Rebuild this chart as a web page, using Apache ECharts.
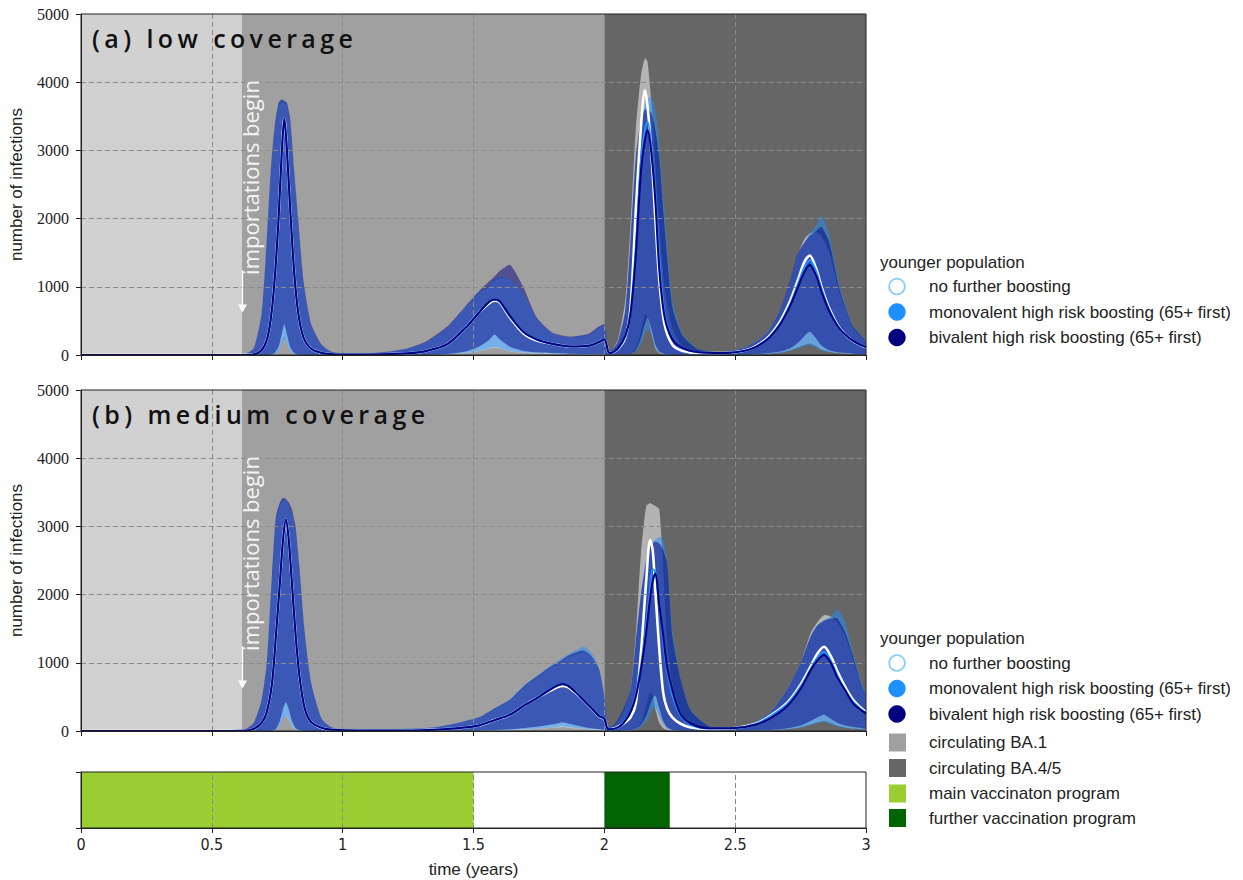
<!DOCTYPE html>
<html><head><meta charset="utf-8">
<script src="https://cdn.jsdelivr.net/npm/echarts@6/dist/echarts.min.js"></script>
<style>
html,body{margin:0;padding:0;background:#fff;}
#wrap{position:relative;width:1243px;height:880px;overflow:hidden;}
#chart{position:absolute;left:0;top:0;width:1243px;height:880px;}
.ptitle{position:absolute;left:92px;font-family:'Open Sans',sans-serif;font-weight:600;font-size:25px;letter-spacing:4.4px;color:#111;line-height:25px;white-space:nowrap;}
</style></head><body>
<div id="wrap"><div id="chart"></div>
<div class="ptitle" id="ta" style="top:26px">(a) low coverage</div>
<div class="ptitle" id="tb" style="top:402px">(b) medium coverage</div>
</div>
<script>
// ---------------- data ----------------
const X_TICKS = [0, 0.5, 1, 1.5, 2, 2.5, 3];
const Y_TICKS = [0, 1000, 2000, 3000, 4000, 5000];
const SCENARIOS = ['no further boosting', 'monovalent high risk boosting (65+ first)', 'bivalent high risk boosting (65+ first)'];
const PERIODS = [
  {name: 'before importations', from: 0, to: 0.615},
  {name: 'circulating BA.1', from: 0.615, to: 2.0},
  {name: 'circulating BA.4/5', from: 2.0, to: 3.0}
];
const VAX = [
  {name: 'main vaccinaton program', from: 0, to: 1.5},
  {name: 'further vaccination program', from: 2.0, to: 2.25}
];
const IMPORT_T = 0.617;        // importations begin (years)
const IMPORT_ARROW = [1240, 680];
const IMPORT_TEXT_POS = [0.6465, 2603];

// panel (a) low coverage
const TA = [0, 0.55, 0.62, 0.66, 0.69, 0.71, 0.725, 0.74, 0.755, 0.767, 0.777, 0.787, 0.80, 0.815, 0.83, 0.85, 0.88, 0.92, 0.96, 1.05, 1.15, 1.25, 1.32, 1.40, 1.47, 1.52, 1.56, 1.58, 1.60, 1.64, 1.69, 1.74, 1.80, 1.87, 1.94, 1.98, 2.0, 2.02, 2.05, 2.08, 2.10, 2.12, 2.14, 2.155, 2.165, 2.18, 2.195, 2.21, 2.23, 2.26, 2.30, 2.36, 2.45, 2.55, 2.62, 2.67, 2.71, 2.74, 2.765, 2.785, 2.81, 2.83, 2.86, 2.90, 2.95, 3.0];
const MA_WHITE = [0, 0, 1, 8, 70, 220, 520, 1100, 2000, 2950, 3470, 3000, 2100, 1200, 620, 260, 90, 30, 12, 6, 10, 25, 60, 160, 400, 620, 760, 795, 770, 545, 320, 215, 165, 125, 135, 190, 230, 25, 80, 260, 700, 2100, 3350, 3880, 3650, 2950, 2000, 1100, 450, 150, 60, 30, 30, 80, 240, 480, 790, 1100, 1370, 1460, 1260, 1000, 680, 390, 205, 110];
const MA_MONO = [0, 0, 1, 8, 70, 220, 520, 1100, 2000, 2950, 3470, 3000, 2100, 1200, 620, 260, 90, 30, 12, 6, 10, 25, 60, 160, 400, 620, 780, 815, 780, 560, 340, 230, 165, 125, 135, 190, 230, 25, 80, 280, 620, 1550, 2850, 3300, 3420, 3050, 2350, 1450, 620, 240, 100, 40, 30, 75, 225, 450, 740, 1040, 1290, 1390, 1220, 970, 660, 385, 208, 112];
const MA_BIV = [0, 0, 1, 8, 70, 220, 520, 1100, 2000, 2950, 3470, 3000, 2100, 1200, 620, 260, 90, 30, 12, 6, 10, 25, 60, 160, 400, 620, 780, 815, 790, 570, 340, 230, 165, 125, 135, 190, 230, 25, 90, 280, 600, 1450, 2700, 3150, 3300, 2950, 2250, 1250, 560, 230, 100, 40, 30, 75, 220, 440, 720, 1000, 1220, 1320, 1160, 930, 640, 380, 210, 115];
const UA_WHITE = [0, 2, 8, 90, 560, 1650, 2650, 3300, 3650, 3700, 3700, 3650, 3400, 2650, 1950, 1050, 430, 140, 40, 18, 35, 90, 190, 400, 700, 910, 1000, 1080, 1130, 1100, 900, 540, 320, 260, 290, 400, 430, 55, 200, 800, 1900, 3300, 4100, 4350, 4300, 3700, 2800, 1900, 1000, 400, 120, 50, 40, 130, 320, 640, 1080, 1480, 1700, 1780, 1800, 1750, 1500, 900, 400, 180];
const UA_MONO = [0, 2, 8, 90, 580, 1650, 2650, 3300, 3680, 3720, 3740, 3680, 3400, 2650, 1950, 1050, 430, 140, 40, 18, 35, 90, 190, 400, 700, 920, 1020, 1100, 1150, 1100, 900, 540, 320, 260, 300, 410, 440, 55, 180, 650, 1600, 2800, 3450, 3650, 3750, 3780, 3600, 3100, 2100, 800, 300, 80, 40, 130, 320, 640, 1080, 1480, 1650, 1780, 1900, 2050, 1750, 1000, 430, 190];
const UA_BIV = [0, 2, 8, 100, 600, 1700, 2700, 3350, 3700, 3750, 3720, 3700, 3450, 2700, 2000, 1100, 450, 150, 45, 20, 40, 100, 200, 420, 720, 930, 1080, 1150, 1230, 1320, 1000, 560, 330, 270, 310, 420, 450, 60, 180, 650, 1700, 2900, 3450, 3600, 3600, 3550, 3300, 2900, 1900, 700, 280, 80, 40, 130, 320, 650, 1100, 1500, 1650, 1750, 1820, 1880, 1650, 950, 420, 190];
const LA_WHITE = [0, 0, 0, 0, 0, 0, 2, 18, 70, 180, 270, 170, 60, 15, 2, 1, 0, 0, 0, 0, 0, 1, 4, 10, 25, 55, 90, 110, 95, 50, 30, 22, 18, 14, 11, 11, 11, 1, 1, 6, 25, 100, 350, 600, 560, 320, 100, 28, 6, 2, 1, 1, 1, 6, 18, 36, 70, 110, 150, 170, 130, 80, 45, 26, 15, 10];
const LA_MONO = [0, 0, 0, 0, 0, 0, 2, 15, 60, 160, 250, 160, 60, 15, 2, 1, 0, 0, 0, 0, 0, 1, 4, 10, 30, 60, 100, 120, 100, 55, 35, 25, 20, 15, 12, 12, 12, 1, 1, 6, 15, 50, 160, 300, 380, 300, 110, 35, 10, 3, 1, 1, 1, 5, 16, 30, 60, 100, 130, 140, 110, 70, 40, 25, 15, 10];
const LA_BIV = [0, 0, 0, 0, 0, 0, 5, 30, 120, 300, 450, 300, 110, 30, 5, 2, 0, 0, 0, 0, 0, 2, 5, 15, 50, 120, 220, 300, 230, 120, 60, 40, 30, 20, 15, 15, 15, 2, 2, 8, 20, 70, 250, 450, 550, 380, 150, 50, 15, 4, 2, 1, 2, 8, 25, 50, 100, 180, 280, 340, 240, 140, 70, 35, 20, 12];

// panel (b) medium coverage
const TB = [0, 0.55, 0.62, 0.66, 0.69, 0.71, 0.73, 0.745, 0.76, 0.772, 0.783, 0.794, 0.806, 0.82, 0.835, 0.855, 0.88, 0.92, 0.96, 1.05, 1.2, 1.35, 1.45, 1.52, 1.58, 1.64, 1.70, 1.75, 1.79, 1.82, 1.84, 1.86, 1.89, 1.92, 1.95, 1.98, 2.0, 2.015, 2.04, 2.07, 2.10, 2.12, 2.14, 2.16, 2.175, 2.185, 2.195, 2.21, 2.225, 2.24, 2.26, 2.29, 2.33, 2.40, 2.50, 2.58, 2.64, 2.70, 2.75, 2.79, 2.815, 2.84, 2.865, 2.89, 2.92, 2.95, 2.98, 3.0];
const MB_WHITE = [0, 0, 2, 30, 120, 280, 700, 1400, 2170, 2800, 3100, 2800, 2170, 1420, 800, 330, 130, 45, 18, 6, 6, 20, 45, 80, 160, 240, 390, 500, 585, 640, 660, 645, 560, 450, 335, 215, 175, 25, 40, 100, 200, 400, 1150, 2200, 2800, 2650, 2050, 1200, 560, 330, 200, 110, 50, 30, 45, 110, 240, 420, 680, 960, 1140, 1236, 1100, 880, 650, 460, 340, 280];
const MB_MONO = [0, 0, 2, 30, 120, 280, 700, 1400, 2170, 2800, 3100, 2800, 2170, 1420, 800, 330, 130, 45, 18, 6, 6, 20, 45, 80, 160, 240, 390, 500, 600, 665, 680, 665, 570, 455, 340, 220, 180, 25, 32, 110, 290, 540, 950, 1550, 2100, 2370, 2330, 1850, 1300, 880, 520, 230, 90, 38, 45, 105, 230, 400, 650, 920, 1080, 1160, 1030, 820, 600, 430, 320, 265];
const MB_BIV = [0, 0, 2, 30, 120, 280, 700, 1400, 2170, 2800, 3100, 2800, 2170, 1420, 800, 330, 130, 45, 18, 6, 6, 20, 45, 80, 160, 240, 390, 500, 600, 665, 690, 665, 570, 455, 340, 220, 180, 25, 35, 100, 280, 500, 900, 1450, 1950, 2200, 2310, 1850, 1400, 940, 600, 255, 110, 40, 45, 95, 200, 370, 620, 900, 1040, 1114, 1000, 790, 600, 410, 310, 255];
const UB_WHITE = [0, 2, 10, 110, 420, 950, 2200, 3050, 3300, 3380, 3380, 3300, 3200, 2950, 2350, 1400, 680, 170, 45, 15, 25, 55, 125, 200, 320, 450, 660, 800, 910, 980, 1030, 1080, 1120, 1150, 1080, 880, 480, 60, 80, 250, 600, 1400, 2600, 3300, 3340, 3320, 3300, 3250, 2400, 1300, 700, 300, 100, 40, 50, 140, 300, 620, 1000, 1450, 1600, 1700, 1680, 1600, 1400, 1050, 680, 480];
const UB_MONO = [0, 2, 10, 110, 430, 980, 2250, 3100, 3330, 3400, 3380, 3330, 3200, 2950, 2350, 1400, 680, 170, 45, 15, 25, 55, 125, 200, 330, 470, 690, 830, 950, 1020, 1070, 1120, 1180, 1240, 1150, 920, 520, 60, 100, 300, 600, 1300, 2000, 2500, 2700, 2780, 2800, 2850, 2800, 2500, 1500, 800, 310, 70, 50, 140, 300, 620, 1000, 1400, 1550, 1620, 1680, 1780, 1600, 1150, 750, 520];
const UB_BIV = [0, 2, 10, 120, 450, 1000, 2300, 3150, 3350, 3420, 3400, 3350, 3250, 3000, 2400, 1450, 700, 180, 50, 15, 25, 55, 130, 200, 330, 460, 680, 820, 930, 1000, 1050, 1100, 1150, 1180, 1100, 900, 500, 60, 100, 300, 600, 1300, 2000, 2500, 2700, 2750, 2780, 2750, 2650, 2450, 1400, 780, 300, 70, 50, 140, 300, 620, 1000, 1400, 1550, 1620, 1650, 1650, 1450, 1100, 700, 500];
const LB_WHITE = [0, 0, 0, 0, 0, 0, 3, 18, 90, 180, 220, 160, 75, 20, 4, 1, 0, 0, 0, 0, 0, 1, 2, 4, 7, 12, 20, 32, 44, 52, 60, 48, 38, 28, 20, 14, 11, 1, 1, 3, 8, 24, 120, 360, 560, 520, 320, 120, 40, 16, 6, 2, 1, 1, 2, 5, 12, 28, 56, 100, 128, 152, 120, 80, 52, 36, 28, 22];
const LB_MONO = [0, 0, 0, 0, 0, 0, 3, 15, 80, 170, 220, 170, 80, 22, 5, 1, 0, 0, 0, 0, 0, 1, 2, 5, 8, 14, 25, 36, 48, 60, 70, 56, 45, 32, 22, 16, 12, 1, 1, 4, 10, 20, 60, 140, 240, 320, 340, 220, 100, 36, 12, 4, 1, 1, 2, 5, 10, 24, 48, 88, 112, 132, 100, 68, 44, 32, 24, 20];
const LB_BIV = [0, 0, 0, 0, 0, 0, 5, 30, 150, 320, 420, 320, 150, 45, 10, 2, 0, 0, 0, 0, 0, 1, 4, 8, 14, 25, 45, 65, 90, 110, 130, 110, 85, 60, 40, 28, 20, 2, 2, 6, 15, 30, 90, 220, 380, 480, 520, 330, 150, 55, 20, 6, 2, 1, 3, 8, 16, 40, 80, 150, 200, 240, 180, 120, 80, 60, 45, 36];

// ---------------- styles ----------------
const PERIOD_COLORS = ['#d1d1d1', '#a0a0a0', '#666666'];
const VAX_COLORS = ['#9acd32', '#006400'];
const LINE_COLORS = ['#ffffff', '#1e90ff', '#000080'];
const BAND_COLORS = ['rgba(255,255,255,0.5)', 'rgba(30,144,255,0.5)', 'rgba(0,0,128,0.5)'];
const LINE_WIDTHS = [2.6, 2, 2];
const GRID_LINE = {color: '#8a8a8a', width: 1, type: [5, 3]};
const SANS = '"Liberation Sans", Arial, sans-serif';
const NARROW = '"Liberation Sans Narrow", "DejaVu Sans Condensed", "Liberation Sans", sans-serif';
const SERIF = '"Liberation Serif", "DejaVu Serif", serif';

const PANELS = [
  {T: TA, M: [MA_WHITE, MA_MONO, MA_BIV], U: [UA_WHITE, UA_MONO, UA_BIV], L: [LA_WHITE, LA_MONO, LA_BIV]},
  {T: TB, M: [MB_WHITE, MB_MONO, MB_BIV], U: [UB_WHITE, UB_MONO, UB_BIV], L: [LB_WHITE, LB_MONO, LB_BIV]}
];

const grids = [
  {left: 81, top: 14, width: 785, height: 341},
  {left: 81, top: 390, width: 785, height: 341},
  {left: 81, top: 772, width: 785, height: 56}
].map(g => Object.assign(g, {show: true, borderColor: '#222', borderWidth: 1, backgroundColor: 'transparent', z: 10}));

const xAxes = [0, 1, 2].map(i => ({
  type: 'value', gridIndex: i, min: X_TICKS[0], max: X_TICKS[X_TICKS.length - 1], interval: X_TICKS[1] - X_TICKS[0],
  axisLine: {show: true, onZero: false, lineStyle: {color: '#222', width: 1}},
  axisTick: {show: true, length: 5, lineStyle: {color: '#222'}},
  axisLabel: {show: i === 2, fontFamily: NARROW, fontSize: 16, color: '#222', margin: 8, showMinLabel: true, showMaxLabel: true,
    formatter: v => String(v)},
  splitLine: {show: false},
  name: i === 2 ? 'time (years)' : '', nameLocation: 'middle', nameGap: 33,
  nameTextStyle: {fontFamily: SANS, fontSize: 17, color: '#222'},
  z: 11
}));
const yAxes = [0, 1, 2].map(i => (i < 2 ? {
  type: 'value', gridIndex: i, min: Y_TICKS[0], max: Y_TICKS[Y_TICKS.length - 1], interval: Y_TICKS[1] - Y_TICKS[0],
  axisLine: {show: true, onZero: false, lineStyle: {color: '#222', width: 1}},
  axisTick: {show: true, length: 5, lineStyle: {color: '#222'}},
  axisLabel: {fontFamily: SERIF, fontSize: 16, color: '#222', margin: 12, formatter: v => String(v)},
  splitLine: {show: false},
  name: 'number of infections', nameLocation: 'middle', nameGap: 56,
  nameTextStyle: {fontFamily: SANS, fontSize: 17, color: '#222'},
  z: 11
} : {
  type: 'value', gridIndex: i, min: 0, max: 1, interval: 1,
  axisLine: {show: true, lineStyle: {color: '#222'}},
  axisTick: {show: true, length: 5, lineStyle: {color: '#222'}},
  axisLabel: {show: false}, splitLine: {show: false}, z: 11
}));

const series = [];
function gridLines(g, withH) {
  const d = [];
  if (withH) Y_TICKS.slice(1, -1).forEach(v => d.push({yAxis: v}));
  X_TICKS.slice(1, -1).forEach(v => d.push({xAxis: v}));
  return {type: 'line', name: 'grid' + g, xAxisIndex: g, yAxisIndex: g, data: [], z: 3, silent: true,
    markLine: {silent: true, symbol: ['none', 'none'], label: {show: false}, lineStyle: GRID_LINE, data: d, animation: false}};
}
PANELS.forEach((P, g) => {
  series.push({type: 'line', name: 'periods' + g, xAxisIndex: g, yAxisIndex: g, data: [], z: 1, silent: true,
    markArea: {silent: true, data: PERIODS.map((p, k) => [{xAxis: p.from, itemStyle: {color: PERIOD_COLORS[k], opacity: 1}}, {xAxis: p.to}])}});
  [0, 1, 2].forEach(s => {
    const T = P.T, lo = P.L[s], hi = P.U[s];
    series.push({type: 'custom', name: SCENARIOS[s] + ' range', xAxisIndex: g, yAxisIndex: g, z: 2, silent: true, clip: true,
      data: [[T[0], lo[0]]],
      renderItem: function (params, api) {
        const pts = [];
        for (let i = 0; i < T.length; i++) pts.push(api.coord([T[i], hi[i]]));
        for (let i = T.length - 1; i >= 0; i--) pts.push(api.coord([T[i], lo[i]]));
        return {type: 'polygon', shape: {points: pts, smooth: 0.2}, style: {fill: BAND_COLORS[s], stroke: null}};
      }});
  });
  series.push(gridLines(g, true));
  [0, 1, 2].forEach(s => {
    series.push({type: 'line', name: SCENARIOS[s], xAxisIndex: g, yAxisIndex: g, z: 4 + s, silent: true,
      data: P.T.map((t, i) => [t, P.M[s][i]]), showSymbol: false, symbol: 'none', smooth: 0.3,
      lineStyle: {color: LINE_COLORS[s], width: LINE_WIDTHS[s]}});
  });
  series.push({type: 'line', name: 'importations' + g, xAxisIndex: g, yAxisIndex: g, data: [], z: 8, silent: true,
    markLine: {silent: true, symbol: ['none', 'triangle'], symbolSize: [9, 8], label: {show: false},
      lineStyle: {color: '#ffffff', width: 1.3, type: 'solid'},
      data: [[{coord: [IMPORT_T, IMPORT_ARROW[0]]}, {coord: [IMPORT_T, IMPORT_ARROW[1]]}]]}});
});
series.push({type: 'line', name: 'vaccination', xAxisIndex: 2, yAxisIndex: 2, data: [], z: 1, silent: true,
  markArea: {silent: true, data: VAX.map((v, k) => [{name: '', xAxis: v.from, itemStyle: {color: VAX_COLORS[k], opacity: 1}}, {xAxis: v.to}])}});
series.push(gridLines(2, false));

const chart = echarts.init(document.getElementById('chart'), null, {renderer: 'svg', width: 1243, height: 880});
chart.setOption({
  animation: false,
  backgroundColor: '#ffffff',
  grid: grids, xAxis: xAxes, yAxis: yAxes, series: series
});

// ---------------- legends & annotation ----------------
const LEG_FONT = {fontFamily: SANS, fontSize: 17, fill: '#222'};
function legendText(x, y, text) {
  return {type: 'text', x: x, y: y, z: 30, style: Object.assign({text: text, align: 'left', verticalAlign: 'middle'}, LEG_FONT)};
}
function circleMarker(y, s) {
  return {type: 'circle', z: 30, shape: {cx: 897, cy: y, r: s === 0 ? 7.8 : 8.7},
    style: s === 0 ? {fill: '#ffffff', stroke: '#87cefa', lineWidth: 1.8} : {fill: LINE_COLORS[s]}};
}
function rectMarker(y, color) {
  return {type: 'rect', z: 30, shape: {x: 889, y: y - 9, width: 17, height: 18}, style: {fill: color}};
}
const graphics = [];
[[262, [286.5, 312, 337.5]], [638, [663, 688.5, 714]]].forEach(([ty, ys]) => {
  graphics.push(legendText(880, ty, 'younger population'));
  ys.forEach((y, s) => { graphics.push(circleMarker(y, s)); graphics.push(legendText(929, y, SCENARIOS[s])); });
});
const sq = [[742.5, PERIOD_COLORS[1], PERIODS[1].name], [768, PERIOD_COLORS[2], PERIODS[2].name], [793.5, VAX_COLORS[0], VAX[0].name], [818, VAX_COLORS[1], VAX[1].name]];
sq.forEach(([y, c, n]) => { graphics.push(rectMarker(y, c)); graphics.push(legendText(929, y, n)); });
[0, 1].forEach(g => {
  const p = chart.convertToPixel({gridIndex: g}, IMPORT_TEXT_POS);
  graphics.push({type: 'text', x: p[0], y: p[1], rotation: Math.PI / 2, z: 30,
    style: {text: 'importations begin', fill: '#f4f4f4', fontFamily: '"Open Sans", sans-serif', fontSize: 22, align: 'center', verticalAlign: 'middle'}});
});
chart.setOption({graphic: graphics});
</script>
</body></html>
